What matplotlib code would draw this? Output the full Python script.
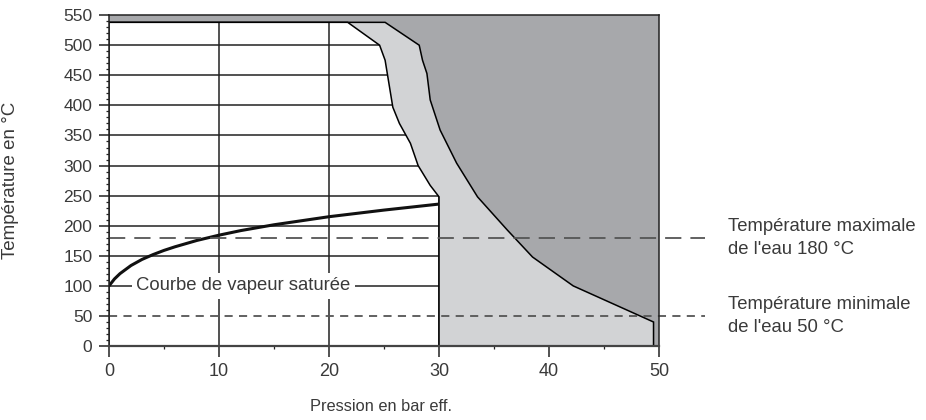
import matplotlib
matplotlib.use('Agg')
import matplotlib.pyplot as plt
from matplotlib.patches import Polygon
import numpy as np

plt.rcParams['font.family'] = ['Liberation Sans', 'DejaVu Sans']

# saturated steam curve (pressure in bar g, temperature in degC)
sat_p = [0, 0.5, 1, 2, 3, 4, 5, 6, 8, 10, 12, 15, 20, 25, 30]
sat_t = [100, 111.6, 120.4, 133.9, 144, 152, 159, 165, 175.6, 184.3, 192, 201.6, 215, 226, 236]

# boundary of the white (allowed) area
white_p = [21.7, 24.6, 25.1, 25.8, 26.4, 27.4, 28.1, 29.2, 30.0, 30.0]
white_t = [538, 500, 475, 397, 370, 337, 300, 267, 248, 0]

# boundary between light grey and dark grey area
dark_p = [25.1, 28.2, 28.5, 28.9, 29.2, 30.1, 31.6, 33.5, 36.2, 38.5, 42.2, 49.5, 49.5]
dark_t = [538, 500, 475, 453, 409, 359, 304, 248, 193, 148, 100, 40, 0]

t_top = 538
t_max = 180
t_min = 50

grid_t = [100, 150, 200, 250, 300, 350, 400, 450, 500]
grid_p = [10, 20, 30]

dark_col = '#a7a8ab'
light_col = '#d2d3d5'
txt_col = '#3a3a3a'

fig = plt.figure(figsize=(9.26, 4.2), dpi=100)
ax = fig.add_axes([0.1177, 0.176, 0.594, 0.788])
ax.set_xlim(0, 50)
ax.set_ylim(0, 550)
ax.set_facecolor(dark_col)

light_xy = [(0, 0), (0, t_top)] + list(zip(dark_p, dark_t))
light = Polygon(light_xy, closed=True, facecolor=light_col, edgecolor='black', lw=1.1, zorder=1)
ax.add_patch(light)

white_xy = [(0, 0), (0, t_top)] + list(zip(white_p, white_t))
white = Polygon(white_xy, closed=True, facecolor='white', edgecolor='none', zorder=2)
ax.add_patch(white)

# grid lines only inside the white area
for t in grid_t:
    ln, = ax.plot([0, 50], [t, t], color='#222222', lw=1.1, zorder=3)
    ln.set_clip_path(white)
for p in grid_p:
    ln, = ax.plot([p, p], [0, 550], color='#222222', lw=1.1, zorder=3)
    ln.set_clip_path(white)

# outline of white area
white_edge = Polygon(white_xy, closed=True, facecolor='none', edgecolor='black', lw=1.1, zorder=4)
ax.add_patch(white_edge)

ax.plot(sat_p, sat_t, color='#111111', lw=2.2, zorder=6, solid_capstyle='butt')

ax.text(2.5, 100, 'Courbe de vapeur saturée', fontsize=13.3, color=txt_col, va='center', ha='left',
        zorder=5, bbox=dict(facecolor='white', edgecolor='none', pad=3))

ax.plot([0, 54.2], [t_max, t_max], color='#555555', lw=1.3, dashes=(9, 5), clip_on=False, zorder=7)
ax.plot([0, 54.2], [t_min, t_min], color='#555555', lw=1.3, dashes=(4.5, 3.5), clip_on=False, zorder=7)

ax.text(56.3, t_max, "Température maximale\nde l'eau 180 °C", fontsize=13.3, color=txt_col,
        va='center', ha='left', linespacing=1.5, clip_on=False)
ax.text(56.3, t_min, "Température minimale\nde l'eau 50 °C", fontsize=13.3, color=txt_col,
        va='center', ha='left', linespacing=1.5, clip_on=False)

ax.set_xticks(np.arange(0, 51, 10))
ax.set_xticks(np.arange(5, 50, 10), minor=True)
ax.set_yticks(np.arange(0, 551, 50))
ax.set_yticks(np.arange(0, 551, 10), minor=True)

ax.tick_params(axis='both', which='major', labelcolor=txt_col, color='#222222')
ax.tick_params(axis='y', which='major', length=7.5, width=1.1, pad=4.5, labelsize=12.5)
ax.tick_params(axis='x', which='major', length=8, width=1.1, pad=4, labelsize=13)
ax.tick_params(axis='y', which='minor', length=2.5, width=0.9, color='#222222')
ax.tick_params(axis='x', which='minor', length=2.5, width=0.9, color='#222222')

for s in ['left', 'top', 'right']:
    ax.spines[s].set_color('#222222')
    ax.spines[s].set_linewidth(1.1)
ax.spines['bottom'].set_color('#444444')
ax.spines['bottom'].set_linewidth(1.6)
for s in ax.spines.values():
    s.set_zorder(8)

fig.text(0.0115, 0.571, 'Température en °C', rotation=90, fontsize=13.5, color=txt_col,
         ha='center', va='center')
fig.text(0.411, 0.033, 'Pression en bar eff.', fontsize=11.8, color=txt_col,
         ha='center', va='center')

fig.savefig('out.png', dpi=100)
